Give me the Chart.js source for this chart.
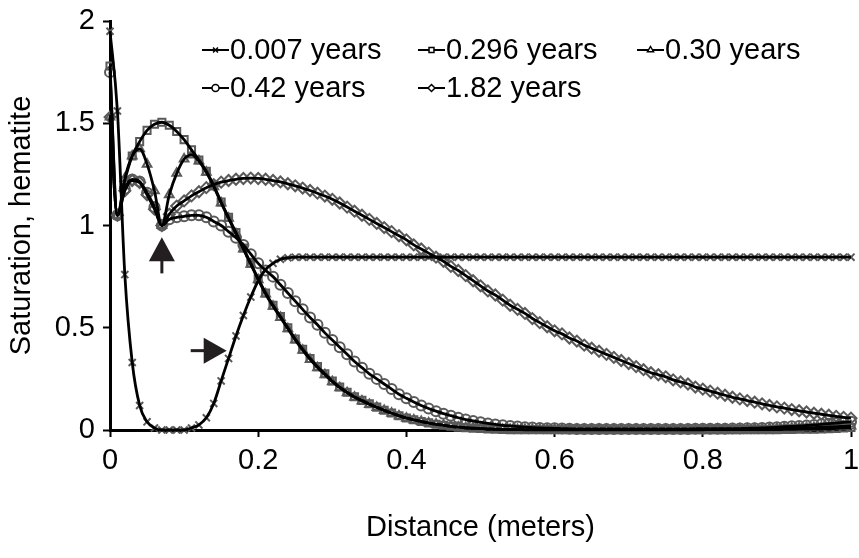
<!DOCTYPE html>
<html>
<head>
<meta charset="utf-8">
<script src="https://cdn.jsdelivr.net/npm/chart.js@4.4.0/dist/chart.umd.min.js"></script>
<style>
  body { margin: 0; background: #fff; }
  #caja { width: 859px; height: 558px; }
</style>
</head>
<body>
<div id="caja"><canvas id="grafico" width="859" height="558"></canvas></div>
<script>
// distancia (m), una fila cada 0.01
const distancia = [
  0, 0.01, 0.02, 0.03, 0.04, 0.05, 0.06, 0.07, 0.08, 0.09,
  0.10, 0.11, 0.12, 0.13, 0.14, 0.15, 0.16, 0.17, 0.18, 0.19,
  0.20, 0.21, 0.22, 0.23, 0.24, 0.25, 0.26, 0.27, 0.28, 0.29,
  0.30, 0.31, 0.32, 0.33, 0.34, 0.35, 0.36, 0.37, 0.38, 0.39,
  0.40, 0.41, 0.42, 0.43, 0.44, 0.45, 0.46, 0.47, 0.48, 0.49,
  0.50, 0.51, 0.52, 0.53, 0.54, 0.55, 0.56, 0.57, 0.58, 0.59,
  0.60, 0.61, 0.62, 0.63, 0.64, 0.65, 0.66, 0.67, 0.68, 0.69,
  0.70, 0.71, 0.72, 0.73, 0.74, 0.75, 0.76, 0.77, 0.78, 0.79,
  0.80, 0.81, 0.82, 0.83, 0.84, 0.85, 0.86, 0.87, 0.88, 0.89,
  0.90, 0.91, 0.92, 0.93, 0.94, 0.95, 0.96, 0.97, 0.98, 0.99,
  1.00
];

const etiquetas = ['0.007 years', '0.296 years', '0.30 years', '0.42 years', '1.82 years'];

const sat007 = [
  1.95, 1.56, 0.76, 0.33, 0.12, 0.04, 0.01, 0.0, 0.0, 0.0,
  0.0, 0.01, 0.025, 0.06, 0.13, 0.24, 0.35, 0.46, 0.56, 0.65,
  0.73, 0.785, 0.815, 0.835, 0.842, 0.845, 0.845, 0.845, 0.845, 0.845,
  0.845, 0.845, 0.845, 0.845, 0.845, 0.845, 0.845, 0.845, 0.845, 0.845,
  0.845, 0.845, 0.845, 0.845, 0.845, 0.845, 0.845, 0.845, 0.845, 0.845,
  0.845, 0.845, 0.845, 0.845, 0.845, 0.845, 0.845, 0.845, 0.845, 0.845,
  0.845, 0.845, 0.845, 0.845, 0.845, 0.845, 0.845, 0.845, 0.845, 0.845,
  0.845, 0.845, 0.845, 0.845, 0.845, 0.845, 0.845, 0.845, 0.845, 0.845,
  0.845, 0.845, 0.845, 0.845, 0.845, 0.845, 0.845, 0.845, 0.845, 0.845,
  0.845, 0.845, 0.845, 0.845, 0.845, 0.845, 0.845, 0.845, 0.845, 0.845,
  0.845
];

const sat296 = [
  1.78, 1.05, 1.22, 1.34, 1.41, 1.465, 1.495, 1.505, 1.49, 1.46,
  1.42, 1.37, 1.32, 1.265, 1.195, 1.115, 1.04, 0.965, 0.89, 0.815,
  0.74, 0.67, 0.61, 0.555, 0.50, 0.445, 0.395, 0.35, 0.31, 0.275,
  0.24, 0.21, 0.185, 0.163, 0.145, 0.128, 0.112, 0.097, 0.083, 0.07,
  0.059, 0.05, 0.042, 0.035, 0.028, 0.023, 0.018, 0.014, 0.011, 0.009,
  0.007, 0.005, 0.004, 0.003, 0.002, 0.002, 0.001, 0.001, 0.001, 0.001,
  0.001, 0.001, 0.001, 0.001, 0.001, 0.001, 0.001, 0.001, 0.001, 0.001,
  0.001, 0.001, 0.001, 0.001, 0.001, 0.001, 0.001, 0.001, 0.001, 0.001,
  0.001, 0.002, 0.002, 0.002, 0.002, 0.002, 0.002, 0.002, 0.002, 0.002,
  0.002, 0.003, 0.003, 0.004, 0.004, 0.004, 0.005, 0.006, 0.008, 0.01,
  0.012
];

const sat030 = [
  1.53, 1.05, 1.23, 1.34, 1.375, 1.30, 1.17, 1.00, 1.15, 1.255,
  1.325, 1.345, 1.315, 1.26, 1.19, 1.11, 1.035, 0.96, 0.885, 0.81,
  0.735, 0.665, 0.605, 0.55, 0.495, 0.44, 0.39, 0.345, 0.305, 0.27,
  0.236, 0.207, 0.182, 0.16, 0.142, 0.125, 0.11, 0.095, 0.082, 0.069,
  0.058, 0.049, 0.041, 0.034, 0.028, 0.023, 0.018, 0.014, 0.011, 0.009,
  0.007, 0.005, 0.004, 0.003, 0.003, 0.002, 0.002, 0.002, 0.002, 0.002,
  0.002, 0.002, 0.002, 0.002, 0.002, 0.002, 0.002, 0.002, 0.002, 0.002,
  0.002, 0.002, 0.002, 0.002, 0.002, 0.002, 0.002, 0.003, 0.003, 0.003,
  0.003, 0.003, 0.004, 0.004, 0.004, 0.005, 0.005, 0.006, 0.006, 0.007,
  0.007, 0.008, 0.009, 0.01, 0.011, 0.012, 0.013, 0.015, 0.016, 0.018,
  0.02
];

const sat042 = [
  1.75, 1.05, 1.18, 1.225, 1.215, 1.16, 1.09, 1.00, 1.03, 1.04,
  1.045, 1.05, 1.05, 1.04, 1.02, 1.00, 0.97, 0.94, 0.905, 0.86,
  0.815, 0.78, 0.75, 0.71, 0.67, 0.63, 0.59, 0.55, 0.515, 0.475,
  0.44, 0.405, 0.37, 0.335, 0.305, 0.275, 0.25, 0.225, 0.20, 0.175,
  0.155, 0.137, 0.12, 0.105, 0.092, 0.08, 0.07, 0.06, 0.051, 0.044,
  0.038, 0.032, 0.027, 0.023, 0.02, 0.017, 0.014, 0.012, 0.01, 0.009,
  0.008, 0.007, 0.006, 0.005, 0.005, 0.005, 0.005, 0.005, 0.005, 0.005,
  0.005, 0.005, 0.005, 0.005, 0.005, 0.005, 0.005, 0.005, 0.005, 0.006,
  0.006, 0.006, 0.006, 0.006, 0.007, 0.007, 0.008, 0.009, 0.01, 0.012,
  0.014, 0.016, 0.018, 0.02, 0.022, 0.025, 0.028, 0.031, 0.034, 0.037,
  0.04
];

const sat182 = [
  1.53, 1.05, 1.17, 1.22, 1.21, 1.15, 1.08, 1.00, 1.055, 1.095,
  1.12, 1.145, 1.165, 1.185, 1.20, 1.212, 1.22, 1.226, 1.23, 1.232,
  1.23, 1.226, 1.22, 1.213, 1.204, 1.194, 1.183, 1.171, 1.158, 1.144,
  1.128, 1.11, 1.09, 1.07, 1.05, 1.03, 1.01, 0.99, 0.97, 0.95,
  0.93, 0.905, 0.885, 0.865, 0.845, 0.825, 0.80, 0.78, 0.755, 0.73,
  0.705, 0.68, 0.66, 0.635, 0.61, 0.59, 0.57, 0.545, 0.525, 0.505,
  0.485, 0.47, 0.45, 0.435, 0.415, 0.40, 0.385, 0.37, 0.355, 0.34,
  0.325, 0.31, 0.295, 0.28, 0.27, 0.26, 0.245, 0.235, 0.225, 0.21,
  0.20, 0.19, 0.18, 0.17, 0.16, 0.152, 0.144, 0.136, 0.128, 0.12,
  0.113, 0.107, 0.10, 0.094, 0.088, 0.082, 0.077, 0.072, 0.067, 0.062,
  0.058
];

const series = [sat007, sat296, sat030, sat042, sat182];
const marcadores = ['crossRot', 'rect', 'triangle', 'circle', 'rectRot'];
const radios = [5, 5, 5, 5, 5.5];

// flechas del dibujo original (en coordenadas de datos)
const flechas = [
  { x: 0.07, y: 0.942, dir: 'arriba' },
  { x: 0.1575, y: 0.388, dir: 'derecha' }
];

const fuente = "'Liberation Sans', Arial, sans-serif";
Chart.defaults.font.family = fuente;
Chart.defaults.font.size = 29;
Chart.defaults.color = '#000';

const puntos = arr => distancia.map((x, i) => ({ x: x, y: arr[i] }));
const numero = v => String(+v.toFixed(2));

const datasets = [];
series.forEach((arr, i) => {
  // marcadores abajo
  datasets.push({
    label: etiquetas[i],
    data: puntos(arr),
    showLine: false,
    pointStyle: marcadores[i],
    pointRadius: radios[i],
    pointBorderWidth: 2,
    pointBorderColor: '#5a5a5a',
    pointBackgroundColor: 'rgba(0,0,0,0)',
    clip: false,
    order: 2
  });
  // linea encima
  datasets.push({
    label: etiquetas[i],
    data: puntos(arr),
    borderColor: '#000',
    borderWidth: 2.8,
    pointRadius: 0,
    cubicInterpolationMode: 'monotone',
    fill: false,
    clip: false,
    order: 1
  });
});

const leyenda = {
  id: 'leyenda',
  afterDraw(chart) {
    const ctx = chart.ctx;
    const pos = [[202, 50], [418, 50], [637, 50], [202, 88], [418, 88]];
    ctx.save();
    ctx.font = '29px ' + fuente;
    ctx.textBaseline = 'middle';
    etiquetas.forEach((txt, i) => {
      const x = pos[i][0], y = pos[i][1];
      ctx.strokeStyle = '#000';
      ctx.lineWidth = 2;
      ctx.beginPath();
      ctx.moveTo(x, y);
      ctx.lineTo(x + 27, y);
      ctx.stroke();
      ctx.fillStyle = '#fff';
      ctx.lineWidth = 1.5;
      Chart.helpers.drawPoint(ctx, { pointStyle: marcadores[i], radius: 3.5, borderWidth: 1.5 }, x + 13.5, y);
      ctx.fillStyle = '#000';
      ctx.fillText(txt, x + 28, y + 1);
    });
    ctx.restore();
  }
};

const dibujaFlechas = {
  id: 'flechas',
  afterDatasetsDraw(chart) {
    const ctx = chart.ctx;
    const sx = chart.scales.x, sy = chart.scales.y;
    ctx.save();
    ctx.fillStyle = '#231f20';
    flechas.forEach(f => {
      const tx = sx.getPixelForValue(f.x);
      const ty = sy.getPixelForValue(f.y);
      ctx.beginPath();
      if (f.dir === 'arriba') {
        ctx.moveTo(tx, ty);
        ctx.lineTo(tx + 13, ty + 24);
        ctx.lineTo(tx - 13, ty + 24);
        ctx.closePath();
        ctx.fill();
        ctx.fillRect(tx - 1.5, ty + 23, 3, 13);
      } else {
        ctx.moveTo(tx, ty);
        ctx.lineTo(tx - 23, ty + 13);
        ctx.lineTo(tx - 23, ty - 13);
        ctx.closePath();
        ctx.fill();
        ctx.fillRect(tx - 36, ty - 1.5, 14, 3);
      }
    });
    ctx.restore();
  }
};

new Chart(document.getElementById('grafico'), {
  type: 'line',
  data: { datasets: datasets },
  options: {
    responsive: false,
    animation: false,
    layout: { padding: { top: 21, right: 0, left: 0, bottom: 0 } },
    plugins: {
      legend: { display: false },
      tooltip: { enabled: false }
    },
    scales: {
      x: {
        type: 'linear',
        min: 0,
        max: 1,
        ticks: { stepSize: 0.2, padding: 7, maxRotation: 0, callback: numero },
        grid: { drawOnChartArea: false, drawTicks: true, tickLength: 7, tickWidth: 2, tickColor: '#000' },
        border: { color: '#000', width: 3 },
        title: { display: true, text: 'Distance (meters)', padding: { top: 0, bottom: 13 } },
        afterFit(scale) {
          scale.height = 128;
          scale.paddingLeft = 0;
          scale.paddingRight = 8;
        }
      },
      y: {
        type: 'linear',
        min: 0,
        max: 2,
        ticks: { stepSize: 0.5, padding: 8, callback: numero },
        grid: { drawOnChartArea: false, drawTicks: true, tickLength: 7, tickWidth: 2, tickColor: '#000' },
        border: { color: '#000', width: 3 },
        title: { display: true, text: 'Saturation, hematite', padding: { top: 5, bottom: 0 } },
        afterFit(scale) {
          scale.width = 110;
          scale.paddingTop = 0;
          scale.paddingBottom = 0;
        }
      }
    }
  },
  plugins: [leyenda, dibujaFlechas]
});
</script>
</body>
</html>
